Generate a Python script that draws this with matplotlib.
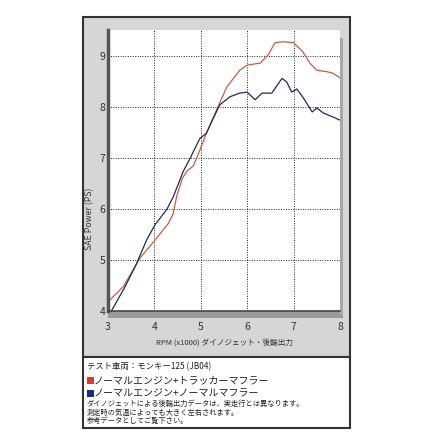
import matplotlib.pyplot as plt
from matplotlib.patches import Rectangle

plt.rcParams['font.family'] = ['Noto Sans CJK JP', 'DejaVu Sans']

# rpm (x1000) / power (PS)
rpm_red = [3.0, 3.33, 3.69, 4.01, 4.3, 4.4, 4.48, 4.6, 4.7, 4.84, 4.98, 5.12, 5.34,
           5.56, 5.84, 6.0, 6.28, 6.45, 6.6, 6.77, 7.0, 7.2, 7.35, 7.5, 7.72, 7.85, 8.0]
ps_red = [4.18, 4.48, 5.04, 5.39, 5.72, 5.9, 6.25, 6.6, 6.75, 6.85, 7.16, 7.49, 7.95,
          8.4, 8.73, 8.83, 8.87, 9.03, 9.27, 9.29, 9.27, 9.09, 8.87, 8.73, 8.7, 8.67, 8.58]

rpm_blue = [3.06, 3.37, 3.62, 3.83, 4.01, 4.12, 4.27, 4.41, 4.62, 4.77, 4.98, 5.12,
            5.25, 5.41, 5.63, 5.84, 6.0, 6.17, 6.32, 6.53, 6.75, 6.85, 6.96, 7.07,
            7.2, 7.4, 7.5, 7.64, 7.85, 8.0]
ps_blue = [3.98, 4.48, 4.94, 5.39, 5.69, 5.82, 6.0, 6.25, 6.74, 7.0, 7.39, 7.49,
           7.75, 8.05, 8.21, 8.28, 8.3, 8.15, 8.28, 8.28, 8.57, 8.5, 8.3, 8.36,
           8.2, 7.91, 7.99, 7.89, 7.81, 7.75]

xticks = [3, 4, 5, 6, 7, 8]
yticks = [4, 5, 6, 7, 8, 9]

W = 445.0
fig = plt.figure(figsize=(4.45, 4.45), dpi=100)

def fx(px):
    return px / W

def fy(py):
    return 1 - py / W

def box(x0, y0, x1, y1, **kw):
    fig.patches.append(Rectangle((fx(x0), fy(y1)), fx(x1) - fx(x0), fy(y0) - fy(y1),
                                 transform=fig.transFigure, **kw))

# outer gray panel, legend box, shadow bars
box(83, 17, 350, 357, facecolor='#d6d6d6', edgecolor='#333333', lw=1.5, zorder=0)
box(83, 357, 350, 428, facecolor='white', edgecolor='#333333', lw=1.5, zorder=0)
box(108, 311, 343, 318, facecolor='#9a9a9a', lw=0, zorder=1)
box(340, 38, 343, 315, facecolor='#a8a8a8', lw=0, zorder=1)

ax = fig.add_axes([fx(108), fy(311), fx(340) - fx(108), fy(30) - fy(311)])
ax.set_zorder(5)
ax.set_facecolor('white')
ax.set_xlim(3, 8)
ax.set_ylim(4, 9.52)
ax.plot(rpm_red, ps_red, color='#cc5a40', lw=0.9)
ax.plot(rpm_blue, ps_blue, color='#1e2a5e', lw=0.9)

ax.set_xticks(xticks)
ax.set_yticks(yticks)
ax.grid(True, color='#222222', ls=(0, (1, 1.5)), lw=0.7)
ax.tick_params(length=0, labelsize=7.5, colors='#333333')
ax.tick_params(axis='x', pad=8)
ax.tick_params(axis='y', pad=2)
for s in ['top', 'right']:
    ax.spines[s].set_visible(False)
ax.spines['left'].set_color('#555555')
ax.spines['left'].set_linewidth(2.5)
ax.spines['bottom'].set_color('#444444')
ax.spines['bottom'].set_linewidth(1.2)
ax.set_xlabel('RPM (x1000) ダイノジェット・後輪出力', fontsize=5.5, color='#333333', labelpad=5)
fig.text(fx(90), fy(219), 'SAE Power (PS)', fontsize=6.3, rotation=90,
         ha='center', va='center', color='#333333')

fig.text(fx(87), fy(367), 'テスト車両：モンキー125 (JB04)', fontsize=6, va='center', color='#222222')
box(87, 377, 94, 384, facecolor='#e03a2a', lw=0)
fig.text(fx(94), fy(380), 'ノーマルエンジン+トラッカーマフラー', fontsize=7.2, va='center', color='#222222')
box(87, 390, 94, 397, facecolor='#1a2a85', lw=0)
fig.text(fx(94), fy(393), 'ノーマルエンジン+ノーマルマフラー', fontsize=7.2, va='center', color='#222222')
fig.text(fx(87), fy(404), 'ダイノジェットによる後輪出力データは、実走行とは異なります。',
         fontsize=5.2, va='center', color='#222222')
fig.text(fx(87), fy(413), '測定時の気温によっても大きく左右されます。', fontsize=5.2, va='center', color='#222222')
fig.text(fx(87), fy(421), '参考データとしてご覧下さい。', fontsize=5.2, va='center', color='#222222')

fig.savefig('out.png', dpi=100, facecolor='white')
